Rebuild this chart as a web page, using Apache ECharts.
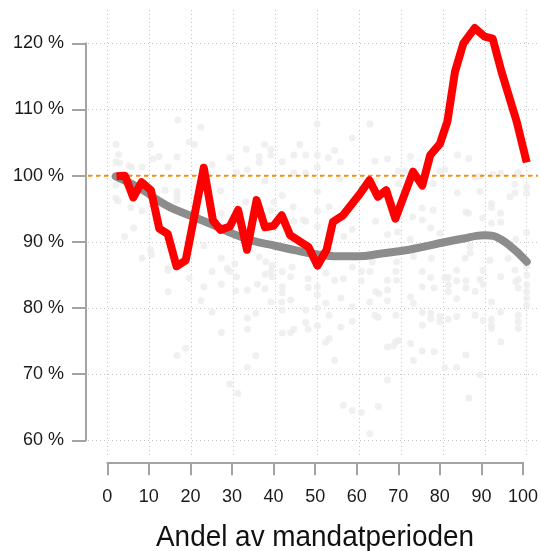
<!DOCTYPE html>
<html>
<head>
<meta charset="utf-8">
<script src="https://cdn.jsdelivr.net/npm/echarts@6/dist/echarts.min.js"></script>
<style>html,body{margin:0;padding:0;background:#fff}#c{width:541px;height:551px}</style>
</head>
<body>
<div id="c"></div>
<script>
// ---- data ----
const xTicks = [0, 10, 20, 30, 40, 50, 60, 70, 80, 90, 100];
const yTicks = [60, 70, 80, 90, 100, 110, 120];
const xLabel = 'Andel av mandatperioden';
const referenceLevel = 100;

const redLine = [[2.2,99.9],[4.2,100.0],[6.2,96.7],[8.2,99.0],[10.4,97.8],[12.4,92.0],[14.4,91.2],[16.5,86.3],[18.7,87.2],[23.0,101.2],[25.2,93.2],[27.0,91.8],[29.2,92.3],[31.2,94.8],[33.3,88.8],[35.6,96.3],[37.6,92.2],[39.6,92.4],[41.6,94.0],[43.6,91.0],[48.0,89.2],[50.1,86.4],[52.3,88.8],[53.8,93.0],[56.2,94.0],[60.3,97.3],[62.5,99.3],[64.5,96.8],[66.5,97.8],[68.7,93.5],[72.9,100.6],[75.1,98.5],[77.0,103.1],[79.3,104.8],[81.1,108.2],[82.9,115.7],[84.9,120.0],[87.6,122.3],[90.0,121.0],[91.9,120.7],[94.0,115.7],[97.6,108.2],[100,102.0]];

const grayX = [2,5,8,10,12,15,18,20,25,30,35,40,45,50,55,60,65,70,75,80,85,88,90,92,94,96,98,100];
const grayY = [99.9,99.0,98.0,97.2,96.3,95.2,94.4,93.9,92.6,91.2,90.1,89.4,88.7,88.1,87.8,87.8,88.2,88.6,89.2,89.9,90.5,90.9,91.0,90.9,90.3,89.4,88.3,87.0];

const scatterPts = [
[16.8,108.4],[22.3,107.3],[2.1,104.7],[10.3,104.7],[19.5,105.1],[20.8,104.7],[2.7,103.2],[10.9,102.5],[12.4,102.9],[16.6,102.8],[2.1,102.1],[2.9,101.9],[5.7,101.3],[5.2,101.5],[8.3,101.3],[14.5,101.3],[25,101.7],[29.2,102.7],[30.9,100.5],[2.1,98.6],[2,96.6],[2.6,96.2],[5.6,95.2],[8.3,94.7],[13.8,97.8],[16.6,97.6],[16.6,96.9],[16.6,96.3],[27,97.7],[27.2,94.3],[6.3,92.1],[4.1,90.8],[23,89.4],[8.3,87.5],[10.3,88.8],[10.5,88],[14.5,86],[27.2,87.5],[28.6,86],[30.4,86.7],
[50,107.8],[62.6,107.8],[58.4,105.7],[37.5,104.7],[45.9,104.7],[33.1,104],[39,104],[54.2,103.8],[36.2,102.9],[36.2,102],[39,103.1],[41.7,102.1],[44.5,103.1],[47.3,103.1],[50.1,103.1],[50.1,101.3],[52.7,102.7],[55.6,102.1],[63.8,102.2],[66.8,102.5],[33.4,100.9],[37.6,99.2],[44.5,100.4],[47.3,100.4],[50.1,97.6],[41.7,97],[39.7,96],[33,96],[52.9,95.3],[44.3,95.3],[39,94.7],[50.1,94.7],[50.1,92.3],[47.3,93.1],[44.5,93.1],[64,93.1],[58.4,91.9],[56.4,90.8],[66.8,91.1],[36.2,87.7],[37.8,87],[39.3,86.4],[44.1,86.2],[58.4,86.2],[63.2,87],[55.5,99.5],[63.8,99.1],[46.7,93.3],[43.6,90.3],
[72.3,102.9],[83.5,103.1],[86.2,102.6],[71,100.7],[69.4,100.7],[79.3,100.7],[80.5,100.9],[87.7,99.8],[88.9,99.9],[91.9,100.2],[93.8,100.4],[98,100.5],[97.6,100.1],[69.4,98.8],[77.7,98.8],[97.2,98.7],[100,98.3],[100,97.3],[83.5,97.4],[88.9,97.6],[97.2,97.4],[96,96.8],[91.6,95.8],[91.6,95.2],[75.1,95.1],[77.7,94.8],[85.5,94.5],[86.1,94.3],[93.8,94.3],[72.8,93.8],[75.1,93.3],[89.5,93.6],[91.6,92.8],[93.8,93],[77.1,92.1],[79.3,91.3],[69.2,91.5],[97.4,90.4],[100,91.4],[72.2,90.4],[86.5,89.3],[86.5,88.3],[85.3,87.5],[91.2,87.2],[95.6,87.5],[98,88.5],[100,87.1],[100,86.3],[77.3,87.5],[73,87.8],[69,87],
[14.5,85.7],[19.5,84.5],[14.5,82.5],[23,83.2],[25,85.5],[27.2,83.6],[29.2,85.5],[30.6,82.6],[30.8,84.7],[22.3,81.1],[25,79.4],[27.2,76.3],[18.7,73.9],[16.6,72.8],[29.2,68.5],[31.1,67.1],
[37.6,85.1],[39,85.5],[39.3,84.7],[41.7,85.5],[43.7,84.7],[47.9,84.4],[52.1,85.3],[54.2,84.2],[56.3,84.4],[60.6,85.5],[60.6,84.1],[62.6,85.5],[33.4,82.7],[35.8,83.6],[37.6,82.9],[41.7,83.2],[41.7,82.3],[47.9,83.1],[50.1,83.2],[50.1,82],[39,80.9],[41.6,80.9],[43.7,81.2],[55.7,81.5],[52.1,80.7],[58.4,80.2],[62.6,80.9],[64.8,82.2],[64,82.5],[66.8,84.2],[66.8,82.7],[66.8,81.1],[35.4,79.2],[33.4,78.5],[41.7,79.7],[47.3,79.7],[50.1,80],[52.9,78.9],[63.8,78.9],[64.6,78.6],[58.4,78],[47.3,77.8],[47.9,76.8],[50.1,77.3],[33.4,76.8],[41.7,76.2],[43.7,76.3],[44.5,76.8],[55.7,77.1],[52.9,75.4],[52.1,74.8],[35.4,72.8],[54.2,72.1],[33.4,71],[66.8,74.1],[66.8,69.1],[56.3,65.3],[58.4,64.5],[60.6,64.2],[64.6,65.1],[62.6,61],
[68.8,85.5],[75.1,85.5],[77.1,84.6],[75.1,83.2],[77.9,83],[69,84.2],[80.5,84.6],[81.3,84.6],[81.3,83.5],[81.3,82.5],[83.3,85.7],[83.3,84.1],[85.5,84.1],[85.5,83],[87.7,82.5],[88.9,84.3],[89.6,83.6],[89.6,85.7],[93.8,84.7],[97.2,85.7],[97.4,84],[98,84.3],[98,83],[100,85],[100,83.5],[100,82.5],[100,81.5],[100,80.4],[72.3,81.7],[73,80.7],[83.3,81.4],[91.6,80.9],[68.8,78.9],[75.1,79.3],[77.1,79.2],[77.1,78.4],[79.3,78.7],[79.3,77.9],[81.3,78.3],[83.3,78.7],[87.7,78.9],[89.6,78.1],[91.6,78.3],[91.6,77.4],[91.6,76.9],[93.8,79.4],[98,78.9],[98,77.9],[98,76.9],[75.1,77.4],[68.8,74.9],[69.4,75.1],[68.2,74.3],[72.3,74.6],[75.1,73.5],[77.9,73.4],[85.5,72.9],[93.8,74.9],[73,72.1],[80.5,71],[83.3,71],[88.9,69.9],[86.2,66.4]
];

// ---- chart ----
const FONT = '"Liberation Sans", Arial, sans-serif';
const AXIS_COLOR = '#a3a3a3';
const GRID_COLOR = '#c4c4c4';
const chart = echarts.init(document.getElementById('c'), null, {renderer: 'canvas'});

const grayLine = grayX.map((x, i) => [x, grayY[i]]);
const xMin = xTicks[0], xMax = xTicks[xTicks.length - 1];
const yMin = yTicks[0], yMax = yTicks[yTicks.length - 1];

chart.setOption({
  animation: false,
  backgroundColor: '#fff',
  grid: [
    {left: 107.3, right: 14.3, top: 43.3, bottom: 110.7},   // 0 data
    {left: 107.3, right: 14.3, top: 10, bottom: 94},         // 1 vertical gridlines
    {left: 88, right: 3, top: 43.3, bottom: 110.7},          // 2 horizontal gridlines + ref line
    {left: 107.3, right: 14.3, top: 43.3, bottom: 88.7},     // 3 x axis
    {left: 86, right: 14.3, top: 43.3, bottom: 110.7}        // 4 y axis
  ],
  xAxis: [
    {gridIndex: 0, type: 'value', min: xMin, max: xMax, show: false},
    {gridIndex: 1, type: 'value', min: xMin, max: xMax, interval: 10,
     axisLine: {show: false}, axisTick: {show: false}, axisLabel: {show: false},
     splitLine: {show: true, lineStyle: {color: GRID_COLOR, width: 1, type: [1, 3]}}},
    {gridIndex: 2, type: 'value', min: 0, max: 1, show: false},
    {gridIndex: 3, type: 'value', min: xMin, max: xMax, interval: 10, position: 'bottom',
     axisLine: {show: true, lineStyle: {color: AXIS_COLOR, width: 2}},
     axisTick: {show: true, length: 13, lineStyle: {color: AXIS_COLOR, width: 2}},
     axisLabel: {show: true, margin: 26, fontSize: 18, fontFamily: FONT, color: '#1a1a1a'},
     splitLine: {show: false}},
    {gridIndex: 4, type: 'value', min: 0, max: 1, show: false}
  ],
  yAxis: [
    {gridIndex: 0, type: 'value', min: yMin, max: yMax, show: false},
    {gridIndex: 1, type: 'value', min: 0, max: 1, show: false},
    {gridIndex: 2, type: 'value', min: yMin, max: yMax, interval: 10,
     axisLine: {show: false}, axisTick: {show: false}, axisLabel: {show: false},
     splitLine: {show: true, lineStyle: {color: GRID_COLOR, width: 1, type: [1, 3]}}},
    {gridIndex: 3, type: 'value', min: 0, max: 1, show: false},
    {gridIndex: 4, type: 'value', min: yMin, max: yMax, interval: 10, position: 'left',
     axisLine: {show: true, lineStyle: {color: AXIS_COLOR, width: 2}},
     axisTick: {show: true, length: 14, lineStyle: {color: AXIS_COLOR, width: 2}},
     axisLabel: {show: true, margin: 22, fontSize: 18, fontFamily: FONT, color: '#1a1a1a',
                 formatter: v => v + ' %'},
     splitLine: {show: false}}
  ],
  series: [
    {type: 'scatter', xAxisIndex: 0, yAxisIndex: 0, data: scatterPts, symbol: 'circle',
     symbolSize: 7, itemStyle: {color: '#ececec'}, z: 2, clip: false, silent: true},
    {type: 'line', xAxisIndex: 2, yAxisIndex: 2, data: [[0, referenceLevel], [1, referenceLevel]],
     symbol: 'none', lineStyle: {color: '#ff8c00', width: 2, type: [4, 4]}, z: 3, silent: true},
    {type: 'line', xAxisIndex: 0, yAxisIndex: 0, data: grayLine, smooth: 0.4, symbol: 'none',
     lineStyle: {color: '#8c8c8c', width: 8, cap: 'round', join: 'round'}, z: 4, clip: false, silent: true},
    {type: 'line', xAxisIndex: 0, yAxisIndex: 0, data: redLine, symbol: 'none',
     lineStyle: {color: '#ff0000', width: 8, cap: 'butt', join: 'round'}, z: 5, clip: false, silent: true}
  ],
  graphic: [
    {type: 'text', x: 315, y: 538, scaleX: 0.93,
     style: {text: xLabel, font: '30px ' + FONT, fill: '#111', textAlign: 'center', textVerticalAlign: 'middle'}}
  ]
});
</script>
</body>
</html>
